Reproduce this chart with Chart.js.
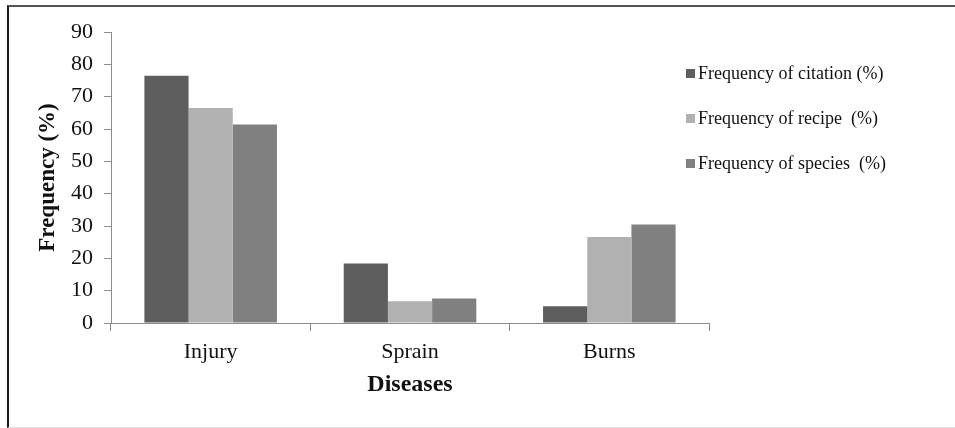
<!DOCTYPE html>
<html>
<head>
<meta charset="utf-8">
<script src="https://cdn.jsdelivr.net/npm/chart.js@4"></script>
<style>
  html, body { margin: 0; padding: 0; background: #fff; }
  .wrap { position: relative; width: 955px; height: 428px; overflow: hidden; }
  .frame {
    position: absolute; left: 7px; top: 5px; right: -2px; bottom: 0;
    border-top: 2px solid #555; border-left: 2px solid #1a1a1a; border-bottom: 1px solid #ddd;
    pointer-events: none;
  }
  canvas { position: absolute; left: 0; top: 0; }
  .legend {
    position: absolute; left: 686px; top: 62px; margin: 0; padding: 0; list-style: none;
    font-family: "Liberation Serif", "Times New Roman", serif; font-size: 18px; color: #111;
  }
  .legend li { height: 45px; line-height: 22px; white-space: pre; }
  .legend span.box { display: inline-block; width: 9px; height: 9px; margin-right: 3px; vertical-align: 1px; }
</style>
</head>
<body>
<div class="wrap">
  <canvas id="chart" width="955" height="428"></canvas>
  <div class="frame"></div>
  <ul class="legend" id="legend"></ul>
</div>
<script>
const categories = ["Injury", "Sprain", "Burns"];
const citation = [76.5, 18.4, 5.2];
const recipe = [66.5, 6.7, 26.6];
const species = [61.4, 7.6, 30.5];
const seriesNames = ["Frequency of citation (%)", "Frequency of recipe  (%)", "Frequency of species  (%)"];
const seriesColors = ["#5e5e5e", "#b1b1b1", "#808080"];

const serif = "'Liberation Serif', 'Times New Roman', serif";

const ctx = document.getElementById("chart").getContext("2d");

const chart = new Chart(ctx, {
  type: "bar",
  data: {
    labels: categories,
    datasets: [citation, recipe, species].map((d, i) => ({
      label: seriesNames[i],
      data: d,
      backgroundColor: seriesColors[i],
      borderWidth: 0,
      barPercentage: 1,
      categoryPercentage: 0.665,
    })),
  },
  options: {
    responsive: false,
    animation: false,
    layout: { padding: { top: 32, right: 246, bottom: 0, left: 0 } },
    plugins: { legend: { display: false }, tooltip: { enabled: false } },
    scales: {
      x: {
        grid: { display: true, drawOnChartArea: false, offset: true, tickLength: 8, color: "#8c8c8c" },
        border: { color: "#8c8c8c" },
        ticks: { color: "#111", padding: 8, font: { family: serif, size: 22 } },
        title: {
          display: true, text: "Diseases", color: "#111",
          font: { family: serif, size: 24, weight: "bold" },
          padding: { top: 0, bottom: 29 },
        },
        afterFit: (s) => { s.height = 105; },
      },
      y: {
        min: 0,
        max: 90,
        ticks: { stepSize: 10, color: "#111", padding: 11, font: { family: serif, size: 22 } },
        grid: { display: true, drawOnChartArea: false, tickLength: 7, color: "#8c8c8c" },
        border: { color: "#8c8c8c" },
        title: {
          display: true, text: "Frequency (%)", color: "#111",
          font: { family: serif, size: 23, weight: "bold" },
          padding: { top: 34, bottom: 0 },
        },
        afterFit: (s) => { s.width = 111; },
      },
    },
  },
});

const legend = document.getElementById("legend");
chart.data.datasets.forEach((ds) => {
  const li = document.createElement("li");
  const box = document.createElement("span");
  box.className = "box";
  box.style.background = ds.backgroundColor;
  li.appendChild(box);
  li.appendChild(document.createTextNode(ds.label));
  legend.appendChild(li);
});
</script>
</body>
</html>
